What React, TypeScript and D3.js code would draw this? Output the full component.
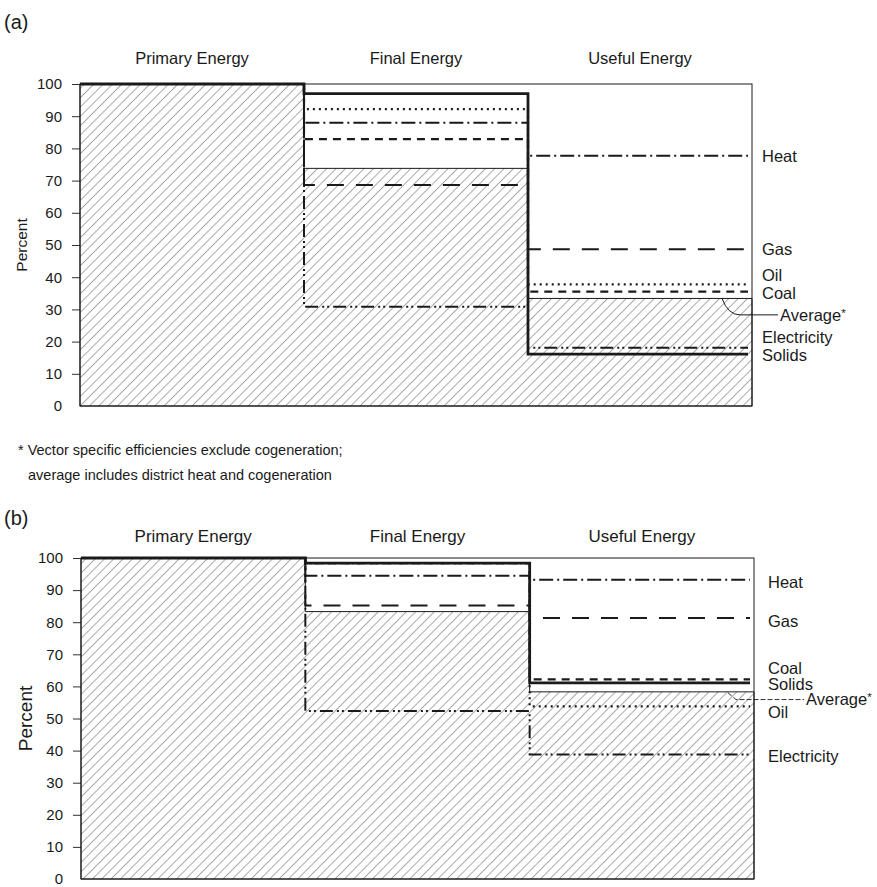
import React, { useEffect, useRef } from "react";
import * as d3 from "d3";

// stages along the x axis
const stages = ["Primary Energy", "Final Energy", "Useful Energy"];
const carriers = ["Heat", "Gas", "Oil", "Coal", "Electricity", "Solids"];
const percentTicks = [0, 10, 20, 30, 40, 50, 60, 70, 80, 90, 100];

// panel (a) efficiencies, percent of primary energy
const finalA = [88.0, 68.6, 92.2, 82.9, 30.8, 97.0];
const usefulA = [77.7, 48.7, 37.8, 35.5, 18.1, 16.1];
const averageA = [100, 73.8, 33.4];

// panel (b)
const finalB = [94.5, 85.2, 98.4, 98.4, 52.3, 98.4];
const usefulB = [93.2, 81.3, 53.8, 62.2, 38.8, 61.1];
const averageB = [100, 83.3, 58.3];

const footnote = [
  "* Vector specific efficiencies exclude cogeneration;",
  "average includes district heat and cogeneration",
];

// line look per carrier
const lineStyle = {
  Heat: { dash: "14,4,2,4", width: 2 },
  Gas: { dash: "17,12", width: 2 },
  Oil: { dash: "2,4", width: 2.2 },
  Coal: { dash: "8,6", width: 2.2 },
  Electricity: { dash: "13,4,2,3,2,4", width: 2 },
  Solids: { dash: null, width: 2.8 },
};

const FONT = "'Liberation Sans', Arial, Helvetica, sans-serif";
const INK = "#1a1a1a";

const panels = [
  {
    id: "a", letter: "(a)", letterY: 22, titleY: 58,
    left: 80, right: 752, top: 84, bottom: 406,
    finals: finalA, usefuls: usefulA, average: averageA,
    tickFont: 15, percentFont: 15.5, percentX: 22, titleFont: 16.5, labelFont: 16.5,
    labelDx: 10, avgLabelDx: 28,
    // label anchor heights (in percent units, to keep labels apart)
    labelAt: { Heat: 77.7, Gas: 48.7, Oil: 40.5, Coal: 35.0, Electricity: 21.4, Solids: 15.8 },
    averageAt: 28.3,
  },
  {
    id: "b", letter: "(b)", letterY: 518, titleY: 536,
    left: 81, right: 754, top: 558, bottom: 879,
    finals: finalB, usefuls: usefulB, average: averageB,
    tickFont: 15, percentFont: 19, percentX: 25, titleFont: 17, labelFont: 16.5,
    labelDx: 14, avgLabelDx: 52,
    labelAt: { Heat: 92.5, Gas: 80.3, Coal: 65.8, Solids: 60.6, Oil: 51.9, Electricity: 38.4 },
    averageAt: 55.9,
  },
];

function drawPanel(svg, p) {
  const g = svg.append("g").attr("class", `panel-${p.id}`);

  const x = d3.scaleBand().domain(stages).range([p.left, p.right]).paddingInner(0).paddingOuter(0);
  const y = d3.scaleLinear().domain([0, 100]).range([p.bottom, p.top]);
  const edges = [x(stages[0]), x(stages[1]), x(stages[2]), p.right];

  // hatched average area
  const avgPts = [...p.average, p.average[2]].map((v, i) => [edges[i], v]);
  g.append("path")
    .datum(avgPts)
    .attr("d", d3.area().curve(d3.curveStepAfter).x(d => d[0]).y0(y(0)).y1(d => y(d[1])))
    .attr("fill", "url(#hatch)")
    .attr("stroke", INK)
    .attr("stroke-width", 1);

  // frame
  g.append("rect")
    .attr("x", p.left).attr("y", p.top)
    .attr("width", p.right - p.left).attr("height", p.bottom - p.top)
    .attr("fill", "none").attr("stroke", INK).attr("stroke-width", 1);

  // carrier step lines
  const step = d3.line().curve(d3.curveStepAfter).x(d => d[0]).y(d => y(d[1]));
  carriers.forEach((c, i) => {
    const pts = [[edges[0], 100], [edges[1], p.finals[i]], [edges[2], p.usefuls[i]], [edges[3] - 4, p.usefuls[i]]];
    const st = lineStyle[c];
    g.append("path")
      .datum(pts)
      .attr("d", step)
      .attr("fill", "none")
      .attr("stroke", INK)
      .attr("stroke-width", st.width)
      .attr("stroke-dasharray", st.dash);
  });

  // y axis
  const axis = g.append("g")
    .attr("transform", `translate(${p.left},0)`)
    .call(d3.axisLeft(y).tickValues(percentTicks).tickSize(8).tickPadding(10))
    .call(a => a.select(".domain").remove());
  axis.selectAll("line").attr("stroke", INK).attr("stroke-width", 0.9);
  axis.selectAll("text")
    .attr("font-family", FONT).attr("font-size", p.tickFont).attr("fill", INK);
  axis.select(".tick line").remove(); // no tick at 0

  g.append("text")
    .attr("transform", `translate(${p.percentX},${(p.top + p.bottom) / 2}) rotate(-90)`)
    .attr("text-anchor", "middle").attr("dy", "0.35em")
    .attr("font-family", FONT).attr("font-size", p.percentFont).attr("fill", INK)
    .text("Percent");

  // stage titles
  stages.forEach(s => {
    g.append("text")
      .attr("x", x(s) + x.bandwidth() / 2).attr("y", p.titleY).attr("dy", "0.35em")
      .attr("text-anchor", "middle")
      .attr("font-family", FONT).attr("font-size", p.titleFont).attr("fill", INK)
      .text(s);
  });

  g.append("text")
    .attr("x", 4).attr("y", p.letterY).attr("dy", "0.35em")
    .attr("font-family", FONT).attr("font-size", 20).attr("fill", INK)
    .text(p.letter);

  // carrier labels
  carriers.forEach(c => {
    g.append("text")
      .attr("x", p.right + p.labelDx).attr("y", y(p.labelAt[c])).attr("dy", "0.35em")
      .attr("font-family", FONT).attr("font-size", p.labelFont).attr("fill", INK)
      .text(c);
  });

  // average leader
  const ya = y(p.average[2]);
  const yl = y(p.averageAt);
  if (p.id === "a") {
    g.append("path")
      .attr("d", `M${p.right - 30},${ya} Q${p.right - 24},${yl} ${p.right - 12},${yl} L${p.right + p.avgLabelDx - 2},${yl}`)
      .attr("fill", "none").attr("stroke", INK).attr("stroke-width", 1);
  } else {
    g.append("path")
      .attr("d", `M${p.right - 26},${ya + 1} L${p.right - 18},${yl} L${p.right + p.avgLabelDx - 2},${yl}`)
      .attr("fill", "none").attr("stroke", INK).attr("stroke-width", 0.9)
      .attr("stroke-dasharray", "5,2");
  }
  const avgText = g.append("text")
    .attr("x", p.right + p.avgLabelDx).attr("y", yl).attr("dy", "0.35em")
    .attr("font-family", FONT).attr("font-size", p.labelFont).attr("fill", INK);
  avgText.append("tspan").text("Average");
  avgText.append("tspan").attr("dy", "-0.35em").attr("font-size", p.labelFont * 0.7).text("*");
}

const EnergyChart = () => {
  const ref = useRef(null);

  useEffect(() => {
    const svg = d3.select(ref.current);
    svg.selectAll("*").remove();

    const defs = svg.append("defs");
    const pat = defs.append("pattern")
      .attr("id", "hatch")
      .attr("patternUnits", "userSpaceOnUse")
      .attr("width", 6.6).attr("height", 6.6)
      .attr("patternTransform", "rotate(45)");
    pat.append("line")
      .attr("x1", 0).attr("y1", 0).attr("x2", 0).attr("y2", 6.6)
      .attr("stroke", "#444").attr("stroke-width", 0.9);

    panels.forEach(p => drawPanel(svg, p));

    // footnote for panel (a)
    const fn = svg.append("g").attr("font-family", FONT).attr("font-size", 14.5).attr("fill", INK);
    fn.append("text").attr("x", 18).attr("y", 450).attr("dy", "0.35em").text(footnote[0]);
    fn.append("text").attr("x", 28).attr("y", 475).attr("dy", "0.35em").text(footnote[1]);
  }, []);

  return (
    <svg
      ref={ref}
      width={877}
      height={887}
      style={{ position: "absolute", left: 0, top: 0, background: "#fff" }}
    />
  );
};

export default function App() {
  return <EnergyChart />;
}
